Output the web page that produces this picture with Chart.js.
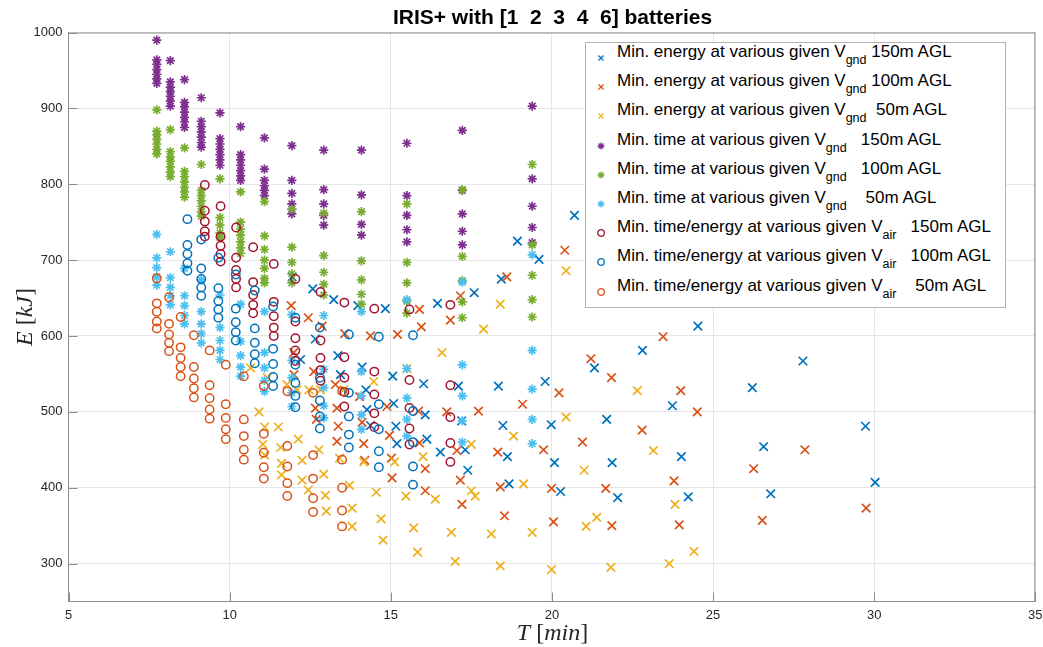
<!DOCTYPE html>
<html>
<head>
<meta charset="utf-8">
<script src="https://cdn.jsdelivr.net/npm/chart.js@4.4.0/dist/chart.umd.min.js"></script>
<style>
  html, body { margin: 0; padding: 0; background: #fff; }
  #wrap { position: relative; width: 1043px; height: 647px; overflow: hidden; }
  #plot { position: absolute; left: 0; top: 0; }
  .title { position: absolute; left: 68px; width: 969px; top: 5px; text-align: center; line-height: 24px;
    font: bold 21px "Liberation Sans", Arial, sans-serif; color: #000; white-space: pre; }
  .xlabel { position: absolute; left: 68px; width: 969px; top: 619px; text-align: center;
    font: 24px "Liberation Serif", serif; color: #262626; line-height: 26px; }
  .ylabel { position: absolute; left: -36px; top: 304px; width: 120px; height: 26px; line-height: 26px;
    text-align: center; transform: rotate(-90deg); font: 24px "Liberation Serif", serif; color: #262626; }
  .legend { position: absolute; left: 585px; top: 42px; width: 421px; height: 266px;
    border: 1px solid #b3b3b3; background: #fff; box-sizing: border-box; }
  .row { position: relative; height: 29.2px; line-height: 29.2px; white-space: pre;
    font: 17px "Liberation Sans", Arial, sans-serif; color: #000; }
  .row svg { position: absolute; left: 10px; top: 10px; }
  .row .txt { position: absolute; left: 31px; top: -1px; }
  .row sub { font-size: 12.5px; vertical-align: -7px; line-height: 0; }
</style>
</head>
<body>
<div id="wrap">
  <canvas id="plot" width="1043" height="647"></canvas>
  <div class="title">IRIS+ with [1  2  3  4  6] batteries</div>
  <div class="xlabel"><i>T</i> [<i>min</i>]</div>
  <div class="ylabel"><i>E</i> [<i>kJ</i>]</div>
  <div class="legend" id="legend"></div>
</div>
<script>
// axis ticks
const xTicks = [5, 10, 15, 20, 25, 30, 35];
const yTicks = [300, 400, 500, 600, 700, 800, 900, 1000];

// min energy, x markers: [T, E]
const energyGnd150 = [
  [11.94, 678], [12.58, 662], [13.23, 648], [13.98, 640], [14.83, 636], [16.45, 643], [17.59, 657],
  [18.43, 675], [18.93, 725], [19.6, 701], [20.7, 759], [12.2, 569], [12.66, 596], [13.36, 574],
  [14.11, 559], [13.44, 549], [15.06, 547], [16.02, 537], [14.23, 529], [17.1, 534], [18.34, 534],
  [19.79, 540], [21.32, 558], [22.81, 581], [24.53, 613], [27.79, 567], [26.22, 532], [15.09, 511],
  [14.26, 503], [16.07, 496], [17.2, 488], [18.48, 482], [19.98, 483], [21.7, 490], [23.74, 508],
  [14.37, 482], [15.16, 481], [16.12, 464], [15.19, 458], [16.54, 447], [17.31, 450], [18.62, 441],
  [20.08, 433], [21.87, 433], [24.02, 441], [26.57, 454], [29.73, 481], [17.39, 423], [18.67, 405],
  [20.27, 395], [22.04, 387], [24.23, 388], [26.79, 392], [30.03, 407]
];
const energyGnd100 = [
  [11.91, 640], [12.44, 624], [12.87, 613], [11.99, 578], [12.61, 553], [12.0, 549], [12.66, 505],
  [12.69, 490], [13.28, 536], [13.57, 603], [14.37, 600], [15.21, 602], [15.95, 612], [15.89, 635],
  [16.85, 621], [17.16, 653], [18.6, 678], [20.4, 713], [23.45, 599], [21.21, 570], [21.85, 545],
  [20.22, 525], [24.0, 528], [24.51, 500], [14.03, 520], [13.33, 505], [14.88, 507], [15.86, 501],
  [16.74, 500], [17.72, 501], [19.09, 510], [13.37, 481], [14.11, 486], [14.96, 469], [15.89, 459],
  [17.05, 449], [18.32, 447], [19.74, 450], [20.95, 460], [22.8, 476], [13.33, 461], [14.16, 458],
  [14.19, 436], [15.02, 439], [15.04, 413], [16.07, 425], [16.07, 396], [17.16, 410], [17.21, 378],
  [18.4, 401], [18.53, 363], [19.99, 399], [20.05, 355], [21.67, 399], [21.86, 350], [23.79, 409],
  [23.95, 351], [26.26, 425], [26.53, 357], [27.85, 450], [29.75, 373]
];
const energyGnd50 = [
  [10.65, 558], [11.17, 545], [10.91, 500], [11.78, 536], [12.09, 529], [12.46, 529], [12.82, 529],
  [11.09, 480], [11.51, 480], [11.03, 457], [11.58, 453], [12.13, 464], [11.09, 443], [11.61, 432],
  [12.25, 436], [12.77, 450], [11.61, 417], [12.25, 410], [12.92, 418], [12.44, 397], [12.97, 390],
  [13.0, 369], [13.54, 529], [14.47, 540], [15.5, 557], [16.59, 578], [17.88, 609], [18.4, 642],
  [20.44, 686], [13.41, 439], [14.16, 434], [15.12, 434], [16.0, 441], [17.5, 457], [18.81, 468],
  [20.44, 493], [22.65, 528], [23.15, 449], [13.72, 403], [14.55, 394], [15.47, 389], [16.38, 385],
  [17.5, 396], [17.62, 389], [19.12, 405], [21.0, 423], [23.82, 378], [13.8, 373], [14.7, 359],
  [15.71, 347], [16.88, 341], [18.12, 339], [19.39, 341], [21.06, 349], [21.39, 361], [24.41, 316],
  [13.8, 349], [14.76, 331], [15.83, 315], [17.0, 303], [18.4, 297], [19.99, 292], [21.83, 295],
  [23.64, 300]
];

// min time, asterisks: one T per column, E values in that column
const timeT = [7.74, 8.16, 8.6, 9.12, 9.7, 10.34, 11.08, 11.93, 12.92, 14.09, 15.5, 17.22, 19.39];
const timeGnd150 = [
  [990, 964, 958, 951, 945, 939, 933],
  [963, 935, 928, 922, 916, 910, 903],
  [938, 908, 902, 895, 888, 882, 875],
  [914, 883, 876, 869, 862, 855, 849],
  [894, 860, 853, 846, 839, 832, 825],
  [876, 839, 832, 825, 818, 811, 805],
  [861, 820, 805, 798, 792, 785],
  [851, 805, 788, 774, 767, 761],
  [845, 793, 774, 759, 746],
  [845, 786, 747, 733],
  [854, 785, 759, 740, 724],
  [871, 792, 761, 738, 720],
  [903, 807, 771, 743, 723]
];
const timeGnd100 = [
  [898, 870, 865, 859, 853, 846, 840],
  [872, 843, 836, 830, 823, 816, 810],
  [848, 817, 810, 803, 796, 790, 783],
  [826, 792, 785, 778, 771, 764, 758],
  [807, 756, 746, 736, 730],
  [790, 750, 741, 733, 724, 716, 709],
  [777, 732, 714, 700, 689, 676, 670],
  [767, 717, 697, 682, 670],
  [762, 706, 684, 668, 654],
  [764, 699, 674, 655, 642],
  [774, 697, 670, 646, 630],
  [793, 705, 673, 645, 624],
  [826, 720, 680, 648, 625]
];
const timeGnd50 = [
  [734, 703, 690, 678, 667],
  [711, 677, 664, 653, 641],
  [689, 653, 640, 627, 616],
  [674, 632, 616, 603, 591],
  [654, 611, 594, 581, 569],
  [642, 593, 574, 559, 547],
  [632, 578, 558, 541, 527],
  [628, 568, 545, 525, 507],
  [627, 556, 532, 508, 492],
  [632, 553, 521, 496, 477],
  [648, 557, 518, 490, 468],
  [671, 562, 521, 488, 460],
  [707, 581, 530, 490, 458]
];

// min time/energy, circles
const airT150 = [9.23, 9.72, 10.2, 10.73, 11.37, 12.04, 12.82, 13.56, 14.49, 15.58, 16.85];
const air150 = [
  [799, 765, 751, 738, 731],
  [771, 731, 719, 708, 698],
  [743, 703, 687, 675, 664],
  [717, 671, 654, 641, 630],
  [695, 645, 626, 611, 600],
  [675, 619, 597, 581, 567],
  [658, 594, 571, 555, 541],
  [644, 572, 545, 526, 507],
  [636, 553, 523, 498, 480],
  [635, 542, 505, 478, 457],
  [641, 535, 493, 459, 434]
];
const airT100 = [8.69, 9.12, 9.65, 10.19, 10.78, 11.35, 12.04, 12.8, 13.7, 14.63, 15.69];
const air100 = [
  [754, 720, 708, 696, 686],
  [727, 689, 675, 664, 653],
  [703, 663, 646, 635, 624],
  [681, 636, 618, 605, 594],
  [660, 610, 591, 576, 564],
  [639, 583, 563, 546, 534],
  [624, 562, 538, 521, 506],
  [611, 545, 515, 494, 478],
  [602, 525, 494, 470, 453],
  [599, 510, 477, 448, 427],
  [601, 501, 460, 428, 404]
];
const airT50 = [7.74, 8.12, 8.48, 8.89, 9.38, 9.88, 10.44, 11.06, 11.79, 12.59, 13.49];
const air50 = [
  [676, 643, 632, 619, 610],
  [651, 616, 602, 591, 580],
  [625, 585, 571, 559, 547],
  [601, 559, 544, 531, 519],
  [581, 535, 518, 503, 491],
  [562, 510, 492, 477, 464],
  [547, 490, 468, 450, 437],
  [534, 471, 446, 427, 412],
  [527, 455, 428, 406, 389],
  [525, 443, 412, 386, 368],
  [527, 437, 400, 370, 349]
];

const labels = [
  ['Min. energy at various given V', 'gnd', ' 150m AGL'],
  ['Min. energy at various given V', 'gnd', ' 100m AGL'],
  ['Min. energy at various given V', 'gnd', '  50m AGL'],
  ['Min. time at various given V', 'gnd', '   150m AGL'],
  ['Min. time at various given V', 'gnd', '   100m AGL'],
  ['Min. time at various given V', 'gnd', '    50m AGL'],
  ['Min. time/energy at various given V', 'air', '   150m AGL'],
  ['Min. time/energy at various given V', 'air', '   100m AGL'],
  ['Min. time/energy at various given V', 'air', '    50m AGL']
];
const colors = ['#0072BD', '#D95319', '#EDB120', '#7E2F8E', '#77AC30', '#4DBEEE', '#A2142F', '#0072BD', '#D95319'];
const markers = ['crossRot', 'crossRot', 'crossRot', 'star', 'star', 'star', 'circle', 'circle', 'circle'];

function pairs(list) {
  return list.map(p => ({x: p[0], y: p[1]}));
}
function columns(ts, cols) {
  const out = [];
  cols.forEach((col, i) => col.forEach(e => out.push({x: ts[i], y: e})));
  return out;
}

const seriesData = [
  pairs(energyGnd150), pairs(energyGnd100), pairs(energyGnd50),
  columns(timeT, timeGnd150), columns(timeT, timeGnd100), columns(timeT, timeGnd50),
  columns(airT150, air150), columns(airT100, air100), columns(airT50, air50)
];

const datasets = seriesData.map((d, i) => ({
  label: labels[i].join(''),
  data: d,
  pointStyle: markers[i],
  pointRadius: markers[i] === 'crossRot' ? 6 : (markers[i] === 'star' ? 4.6 : 4.2),
  pointHoverRadius: 5,
  borderColor: colors[i],
  backgroundColor: 'rgba(0,0,0,0)',
  pointBorderWidth: markers[i] === 'circle' ? 1.5 : 1.7,
  showLine: false,
  order: 9 - i
}));

const axisColor = '#8c8c8c';
const tickFont = {family: '"Liberation Sans", Arial, sans-serif', size: 13};

// MATLAB style box and inward tick marks
const boxTicks = {
  id: 'boxTicks',
  beforeDatasetsDraw(chart) {
    const {ctx, chartArea: a, scales} = chart;
    ctx.save();
    ctx.strokeStyle = axisColor;
    ctx.lineWidth = 1;
    ctx.beginPath();
    ctx.moveTo(a.left, a.top + 0.5);
    ctx.lineTo(a.right, a.top + 0.5);
    ctx.moveTo(a.right - 0.5, a.top);
    ctx.lineTo(a.right - 0.5, a.bottom);
    xTicks.forEach(v => {
      const px = Math.round(scales.x.getPixelForValue(v)) + 0.5;
      ctx.moveTo(px, a.bottom);
      ctx.lineTo(px, a.bottom - 9);
    });
    yTicks.forEach(v => {
      const py = Math.round(scales.y.getPixelForValue(v)) + 0.5;
      ctx.moveTo(a.left, py);
      ctx.lineTo(a.left + 9, py);
    });
    ctx.stroke();
    ctx.restore();
  }
};

new Chart(document.getElementById('plot'), {
  type: 'scatter',
  data: {datasets: datasets},
  options: {
    responsive: false,
    animation: false,
    layout: {padding: {left: 0, right: 6, top: 32.5, bottom: 0}},
    plugins: {
      legend: {display: false},
      title: {display: false},
      tooltip: {enabled: false}
    },
    scales: {
      x: {
        type: 'linear',
        min: 5,
        max: 35,
        afterFit: s => { s.height = 45.5; s.paddingLeft = 0; s.paddingRight = 0; },
        afterBuildTicks: s => { s.ticks = xTicks.map(v => ({value: v})); },
        grid: {color: '#e6e6e6', drawTicks: false},
        border: {color: axisColor},
        ticks: {color: '#262626', padding: 6, font: tickFont, callback: v => String(v)}
      },
      y: {
        type: 'linear',
        min: 250,
        max: 1000,
        afterFit: s => { s.width = 68.5; s.paddingTop = 0; s.paddingBottom = 0; },
        afterBuildTicks: s => { s.ticks = yTicks.map(v => ({value: v})); },
        grid: {color: '#e6e6e6', drawTicks: false},
        border: {color: axisColor},
        ticks: {color: '#262626', padding: 6, font: tickFont, callback: v => String(v)}
      }
    }
  },
  plugins: [boxTicks]
});

// legend with subscripts
function markerSvg(style, color) {
  let inner = '';
  if (style === 'crossRot') {
    inner = '<path d="M2.5 2.5L7.5 7.5M7.5 2.5L2.5 7.5"/>';
  } else if (style === 'star') {
    inner = '<path d="M5 1.5V8.5M1.5 5H8.5M2.5 2.5L7.5 7.5M7.5 2.5L2.5 7.5"/>';
  } else {
    inner = '<circle cx="5" cy="5" r="3.3" fill="none"/>';
  }
  return '<svg width="10" height="10" viewBox="0 0 10 10"><g stroke="' + color +
    '" stroke-width="1.3" fill="none">' + inner + '</g></svg>';
}
const legendEl = document.getElementById('legend');
labels.forEach((lab, i) => {
  const row = document.createElement('div');
  row.className = 'row';
  row.innerHTML = markerSvg(markers[i], colors[i]) +
    '<span class="txt">' + lab[0] + '<sub>' + lab[1] + '</sub>' + lab[2] + '</span>';
  legendEl.appendChild(row);
});
</script>
</body>
</html>
